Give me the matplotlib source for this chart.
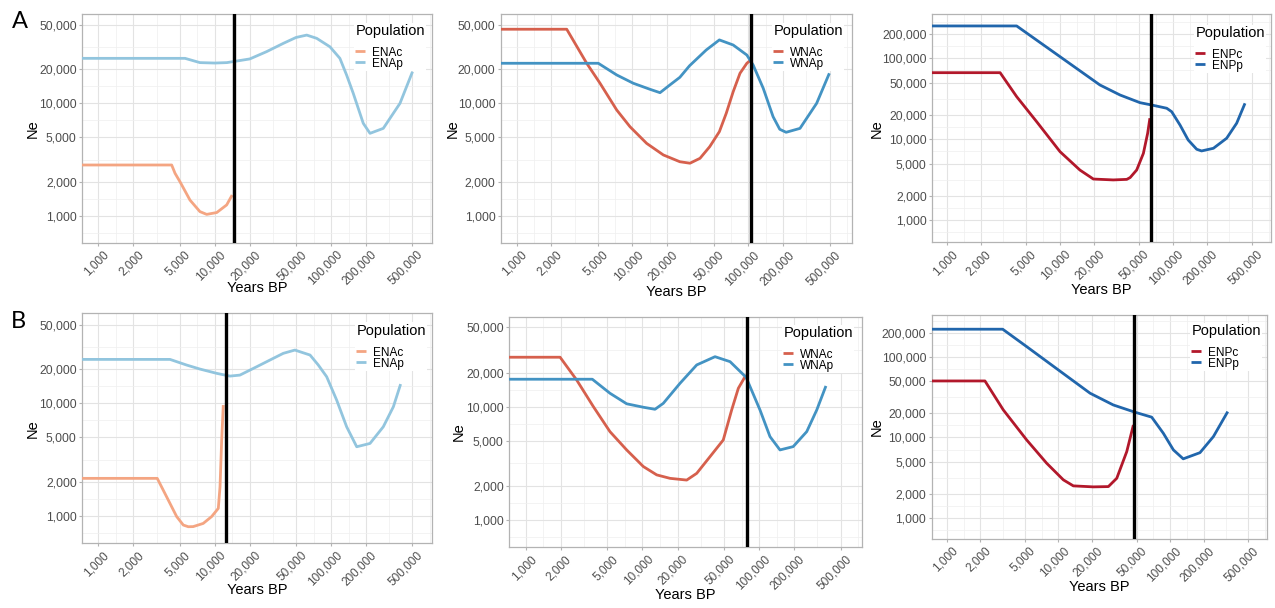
import matplotlib
matplotlib.use("Agg")
import matplotlib.pyplot as plt
import matplotlib.transforms as mtransforms
from matplotlib.ticker import FixedLocator, FuncFormatter, NullFormatter
import numpy as np

plt.rcParams["font.family"] = ["Liberation Sans", "DejaVu Sans"]

# ---------------------------------------------------------------------------
# Effective population size (Ne) trajectories, years before present
# ---------------------------------------------------------------------------

# Row A
A_ENAc_years = [700, 4260, 4550, 5020, 6120, 7450, 8520, 10400, 12650, 14100]
A_ENAc_ne = [2830, 2830, 2390, 2010, 1380, 1090, 1030, 1070, 1250, 1530]
A_ENAp_years = [700, 5550, 7450, 10000, 12700, 20000, 27900, 38800, 50000, 61700,
                75200, 97700, 119000, 136000, 155000, 189000, 216000, 281000,
                391000, 501000]
A_ENAp_ne = [25100, 25100, 23000, 22800, 23000, 24800, 28800, 34100, 38500, 40400,
             37800, 31800, 25100, 17800, 12270, 6640, 5410, 5990, 10000, 19100]
A_ENA_split = 14500

A_WNAc_years = [700, 2710, 4030, 5250, 7310, 9510, 13240, 18450, 25600, 31300,
                38200, 46300, 56100, 64300, 73800, 84500, 96800, 103000]
A_WNAc_ne = [45400, 45400, 22640, 15050, 8720, 6200, 4410, 3480, 3030, 2940,
             3250, 4120, 5600, 8150, 12670, 18460, 22650, 23900]
A_WNAp_years = [700, 5070, 7310, 10170, 14150, 17270, 21000, 25600, 31000, 43200,
                56100, 73800, 96800, 109700, 134000, 163000, 186000, 211000,
                278000, 387000, 498000]
A_WNAp_ne = [22650, 22650, 17840, 15050, 13310, 12420, 14540, 17000, 21500, 29700,
             36500, 32900, 26800, 21860, 13590, 7600, 5880, 5530, 5990, 10000, 18460]
A_WNA_split = 105000

A_ENPc_years = [700, 2970, 4160, 6250, 10070, 15100, 19860, 29800, 39200, 42000,
                48000, 55000, 60000, 62800]
A_ENPc_ne = [66400, 66400, 33600, 16500, 7030, 4170, 3230, 3150, 3200, 3370,
             4180, 6700, 11860, 18200]
A_ENPp_years = [700, 4160, 10070, 22700, 34200, 51400, 65100, 88500, 97900, 116000,
                137000, 163000, 180000, 229000, 300000, 368000, 436000]
A_ENPp_ne = [250600, 250600, 104600, 46800, 35200, 28300, 26500, 24160, 21900, 15000,
             9800, 7530, 7180, 7740, 10300, 15800, 27800]
A_ENP_split = 64500

# Row B
B_ENAc_years = [700, 3200, 3850, 4700, 5360, 5920, 6520, 7950, 9400, 10720,
                11090, 11460, 11830]
B_ENAc_ne = [2160, 2160, 1485, 990, 832, 804, 806, 860, 990, 1170, 1820, 4720, 9660]
B_ENAp_years = [700, 4120, 5720, 7450, 10400, 13500, 16440, 22900, 31870, 38800,
                48800, 65900, 77600, 91600, 111600, 136000, 166000, 216000, 281000,
                343000, 396000]
B_ENAp_ne = [24560, 24560, 21890, 20160, 18460, 17460, 17820, 21130, 25100, 27800,
             29720, 26850, 21890, 17230, 10700, 6200, 4120, 4410, 6200, 9330, 14830]
B_ENA_split = 12480

B_WNAc_years = [700, 1970, 2730, 3800, 5270, 7330, 10190, 13260, 17250, 23970,
                29200, 37960, 49300, 58200, 66400, 77300]
B_WNAc_ne = [27300, 27300, 17210, 10000, 6020, 4150, 2960, 2500, 2330, 2250,
             2580, 3620, 5080, 9350, 14530, 19040]
B_WNAp_years = [700, 3720, 5270, 7330, 10190, 12820, 15100, 21000, 29200, 41900,
                56400, 77300, 101800, 124000, 151000, 196000, 256000, 312000, 374000]
B_WNAp_ne = [17460, 17460, 13130, 10600, 9880, 9480, 10700, 16070, 23340, 27600,
             24950, 18180, 9350, 5440, 4150, 4440, 6020, 9350, 15230]
B_WNA_split = 78300

B_ENPc_years = [700, 2200, 3210, 5200, 7850, 11070, 13600, 20500, 28000, 33300,
                40900, 46900]
B_ENPc_ne = [50600, 50600, 22050, 9300, 4770, 2960, 2490, 2420, 2440, 3100,
             6660, 14300]
B_ENPp_years = [700, 3170, 5200, 9980, 19200, 31000, 48600, 68400, 86900, 107000,
                131000, 185000, 244000, 328000]
B_ENPp_ne = [223500, 223500, 135500, 69500, 35600, 25400, 20600, 17900, 11280, 6990,
             5410, 6460, 10250, 21000]
B_ENP_split = 47900

# Axis breaks
X_BREAKS = [1000, 2000, 5000, 10000, 20000, 50000, 100000, 200000, 500000]
Y_BREAKS_NA = [1000, 2000, 5000, 10000, 20000, 50000]
Y_BREAKS_NP = [1000, 2000, 5000, 10000, 20000, 50000, 100000, 200000]

COLORS = {
    "ENAc": "#F4A582", "ENAp": "#92C5DE",
    "WNAc": "#D6604D", "WNAp": "#4393C3",
    "ENPc": "#B2182B", "ENPp": "#2166AC",
}

# ---------------------------------------------------------------------------
# Figure layout (pixel boxes: left, top, right, bottom)
# ---------------------------------------------------------------------------
FIG_W, FIG_H = 1275, 608
DPI = 100
fig = plt.figure(figsize=(FIG_W / DPI, FIG_H / DPI), dpi=DPI)
fig.patch.set_facecolor("white")


def minor_breaks(breaks):
    """Geometric midpoints between log breaks, extended one step at both ends."""
    lb = np.log10(breaks)
    step = lb[1] - lb[0]
    ext = np.concatenate([[lb[0] - step], lb, [lb[-1] + step]])
    mids = (ext[:-1] + ext[1:]) / 2
    return list(10 ** mids)


panels = [
    dict(box=(82.3, 14.0, 431.5, 242.7), xlim=(726, 729600), ylim=(577, 62200),
         ybreaks=Y_BREAKS_NA, split=A_ENA_split,
         series=[("ENAc", A_ENAc_years, A_ENAc_ne), ("ENAp", A_ENAp_years, A_ENAp_ne)],
         legend_px=(354, 22.5), ne_x=33, years_y=288),
    dict(box=(501.0, 14.3, 851.7, 243.0), xlim=(735, 776000), ylim=(576, 61600),
         ybreaks=Y_BREAKS_NA, split=A_WNA_split,
         series=[("WNAc", A_WNAc_years, A_WNAc_ne), ("WNAp", A_WNAp_years, A_WNAp_ne)],
         legend_px=(772, 22.5), ne_x=453, years_y=292),
    dict(box=(932.3, 14.3, 1270.7, 242.3), xlim=(746, 736000), ylim=(535, 349000),
         ybreaks=Y_BREAKS_NP, split=A_ENP_split,
         series=[("ENPc", A_ENPc_years, A_ENPc_ne), ("ENPp", A_ENPp_years, A_ENPp_ne)],
         legend_px=(1194, 24.5), ne_x=877, years_y=290),
    dict(box=(82.3, 313.3, 431.5, 543.3), xlim=(726, 729600), ylim=(573, 63000),
         ybreaks=Y_BREAKS_NA, split=B_ENA_split,
         series=[("ENAc", B_ENAc_years, B_ENAc_ne), ("ENAp", B_ENAp_years, B_ENAp_ne)],
         legend_px=(355, 322.5), ne_x=33, years_y=590),
    dict(box=(509.3, 316.7, 862.0, 547.3), xlim=(723, 762000), ylim=(574, 62200),
         ybreaks=Y_BREAKS_NA, split=B_WNA_split,
         series=[("WNAc", B_WNAc_years, B_WNAc_ne), ("WNAp", B_WNAp_years, B_WNAp_ne)],
         legend_px=(782, 324.5), ne_x=459, years_y=595),
    dict(box=(931.7, 315.0, 1267.3, 539.0), xlim=(734, 741000), ylim=(542, 336000),
         ybreaks=Y_BREAKS_NP, split=B_ENP_split,
         series=[("ENPc", B_ENPc_years, B_ENPc_ne), ("ENPp", B_ENPp_years, B_ENPp_ne)],
         legend_px=(1190, 322.5), ne_x=877, years_y=587),
]

comma_fmt = FuncFormatter(lambda v, p: f"{v:,.0f}")
FRAME = "#B3B3B3"
# rotated x labels end a few pixels right of their tick
xlabel_shift = mtransforms.ScaledTranslation(4.5 / DPI, 1.0 / DPI, fig.dpi_scale_trans)

for p in panels:
    l, t, r, b = p["box"]
    w, h = r - l, b - t
    ax = fig.add_axes([l / FIG_W, 1 - b / FIG_H, w / FIG_W, h / FIG_H])
    ax.set_xscale("log")
    ax.set_yscale("log")

    for name, xs, ys in p["series"]:
        ax.plot(xs, ys, color=COLORS[name], lw=2.0, label=name,
                solid_capstyle="butt", solid_joinstyle="round", zorder=3)
    ax.axvline(p["split"], color="black", lw=2.4, zorder=4)

    ax.set_xlim(*p["xlim"])
    ax.set_ylim(*p["ylim"])

    ax.xaxis.set_major_locator(FixedLocator(X_BREAKS))
    ax.xaxis.set_minor_locator(FixedLocator(minor_breaks(X_BREAKS)))
    ax.yaxis.set_major_locator(FixedLocator(p["ybreaks"]))
    ax.yaxis.set_minor_locator(FixedLocator(minor_breaks(p["ybreaks"])))
    ax.xaxis.set_major_formatter(comma_fmt)
    ax.yaxis.set_major_formatter(comma_fmt)
    ax.xaxis.set_minor_formatter(NullFormatter())
    ax.yaxis.set_minor_formatter(NullFormatter())

    ax.set_axisbelow(True)
    ax.grid(which="major", color="#E3E3E3", lw=0.8)
    ax.grid(which="minor", color="#EFEFEF", lw=0.5)

    for s in ax.spines.values():
        s.set_color(FRAME)
        s.set_linewidth(0.9)

    ax.tick_params(which="major", length=2.5, width=0.8, color=FRAME,
                   labelsize=8.7, labelcolor="#4D4D4D", pad=1.5)
    ax.tick_params(which="minor", length=0)
    ax.tick_params(axis="x", labelsize=8.5, pad=2.5)
    for lab in ax.get_xticklabels():
        lab.set_rotation(45)
        lab.set_ha("right")
        lab.set_va("top")
        lab.set_rotation_mode("anchor")
        lab.set_transform(lab.get_transform() + xlabel_shift)

    ax.set_xlabel("Years BP", fontsize=10.5, color="black")
    ax.xaxis.set_label_coords(0.5, (b - p["years_y"]) / h)
    ax.xaxis.label.set_va("center")
    ax.set_ylabel("Ne", fontsize=10.5, color="black")
    ax.yaxis.set_label_coords((p["ne_x"] - l) / w, 0.5)
    ax.yaxis.label.set_va("center")

    lx, ly = p["legend_px"]
    leg = ax.legend(title="Population\n", loc="upper left",
                    bbox_to_anchor=((lx - l) / w, (b - ly) / h),
                    frameon=True, fancybox=False, facecolor="white",
                    edgecolor="none", framealpha=1.0, fontsize=8.5,
                    title_fontsize=10.5, handlelength=0.8, handletextpad=0.6,
                    labelspacing=-0.08, borderpad=0.12, borderaxespad=0.0,
                    alignment="left")
    leg.get_title().set_linespacing(0.6)
    leg.set_zorder(6)

fig.text(19.5 / FIG_W, 1 - 21.5 / FIG_H, "A", fontsize=17, ha="center", va="center",
         family=["Lato", "DejaVu Sans"])
fig.text(18.5 / FIG_W, 1 - 321.5 / FIG_H, "B", fontsize=17, ha="center", va="center",
         family=["Lato", "DejaVu Sans"])

fig.savefig("out.png", dpi=DPI, facecolor="white")
